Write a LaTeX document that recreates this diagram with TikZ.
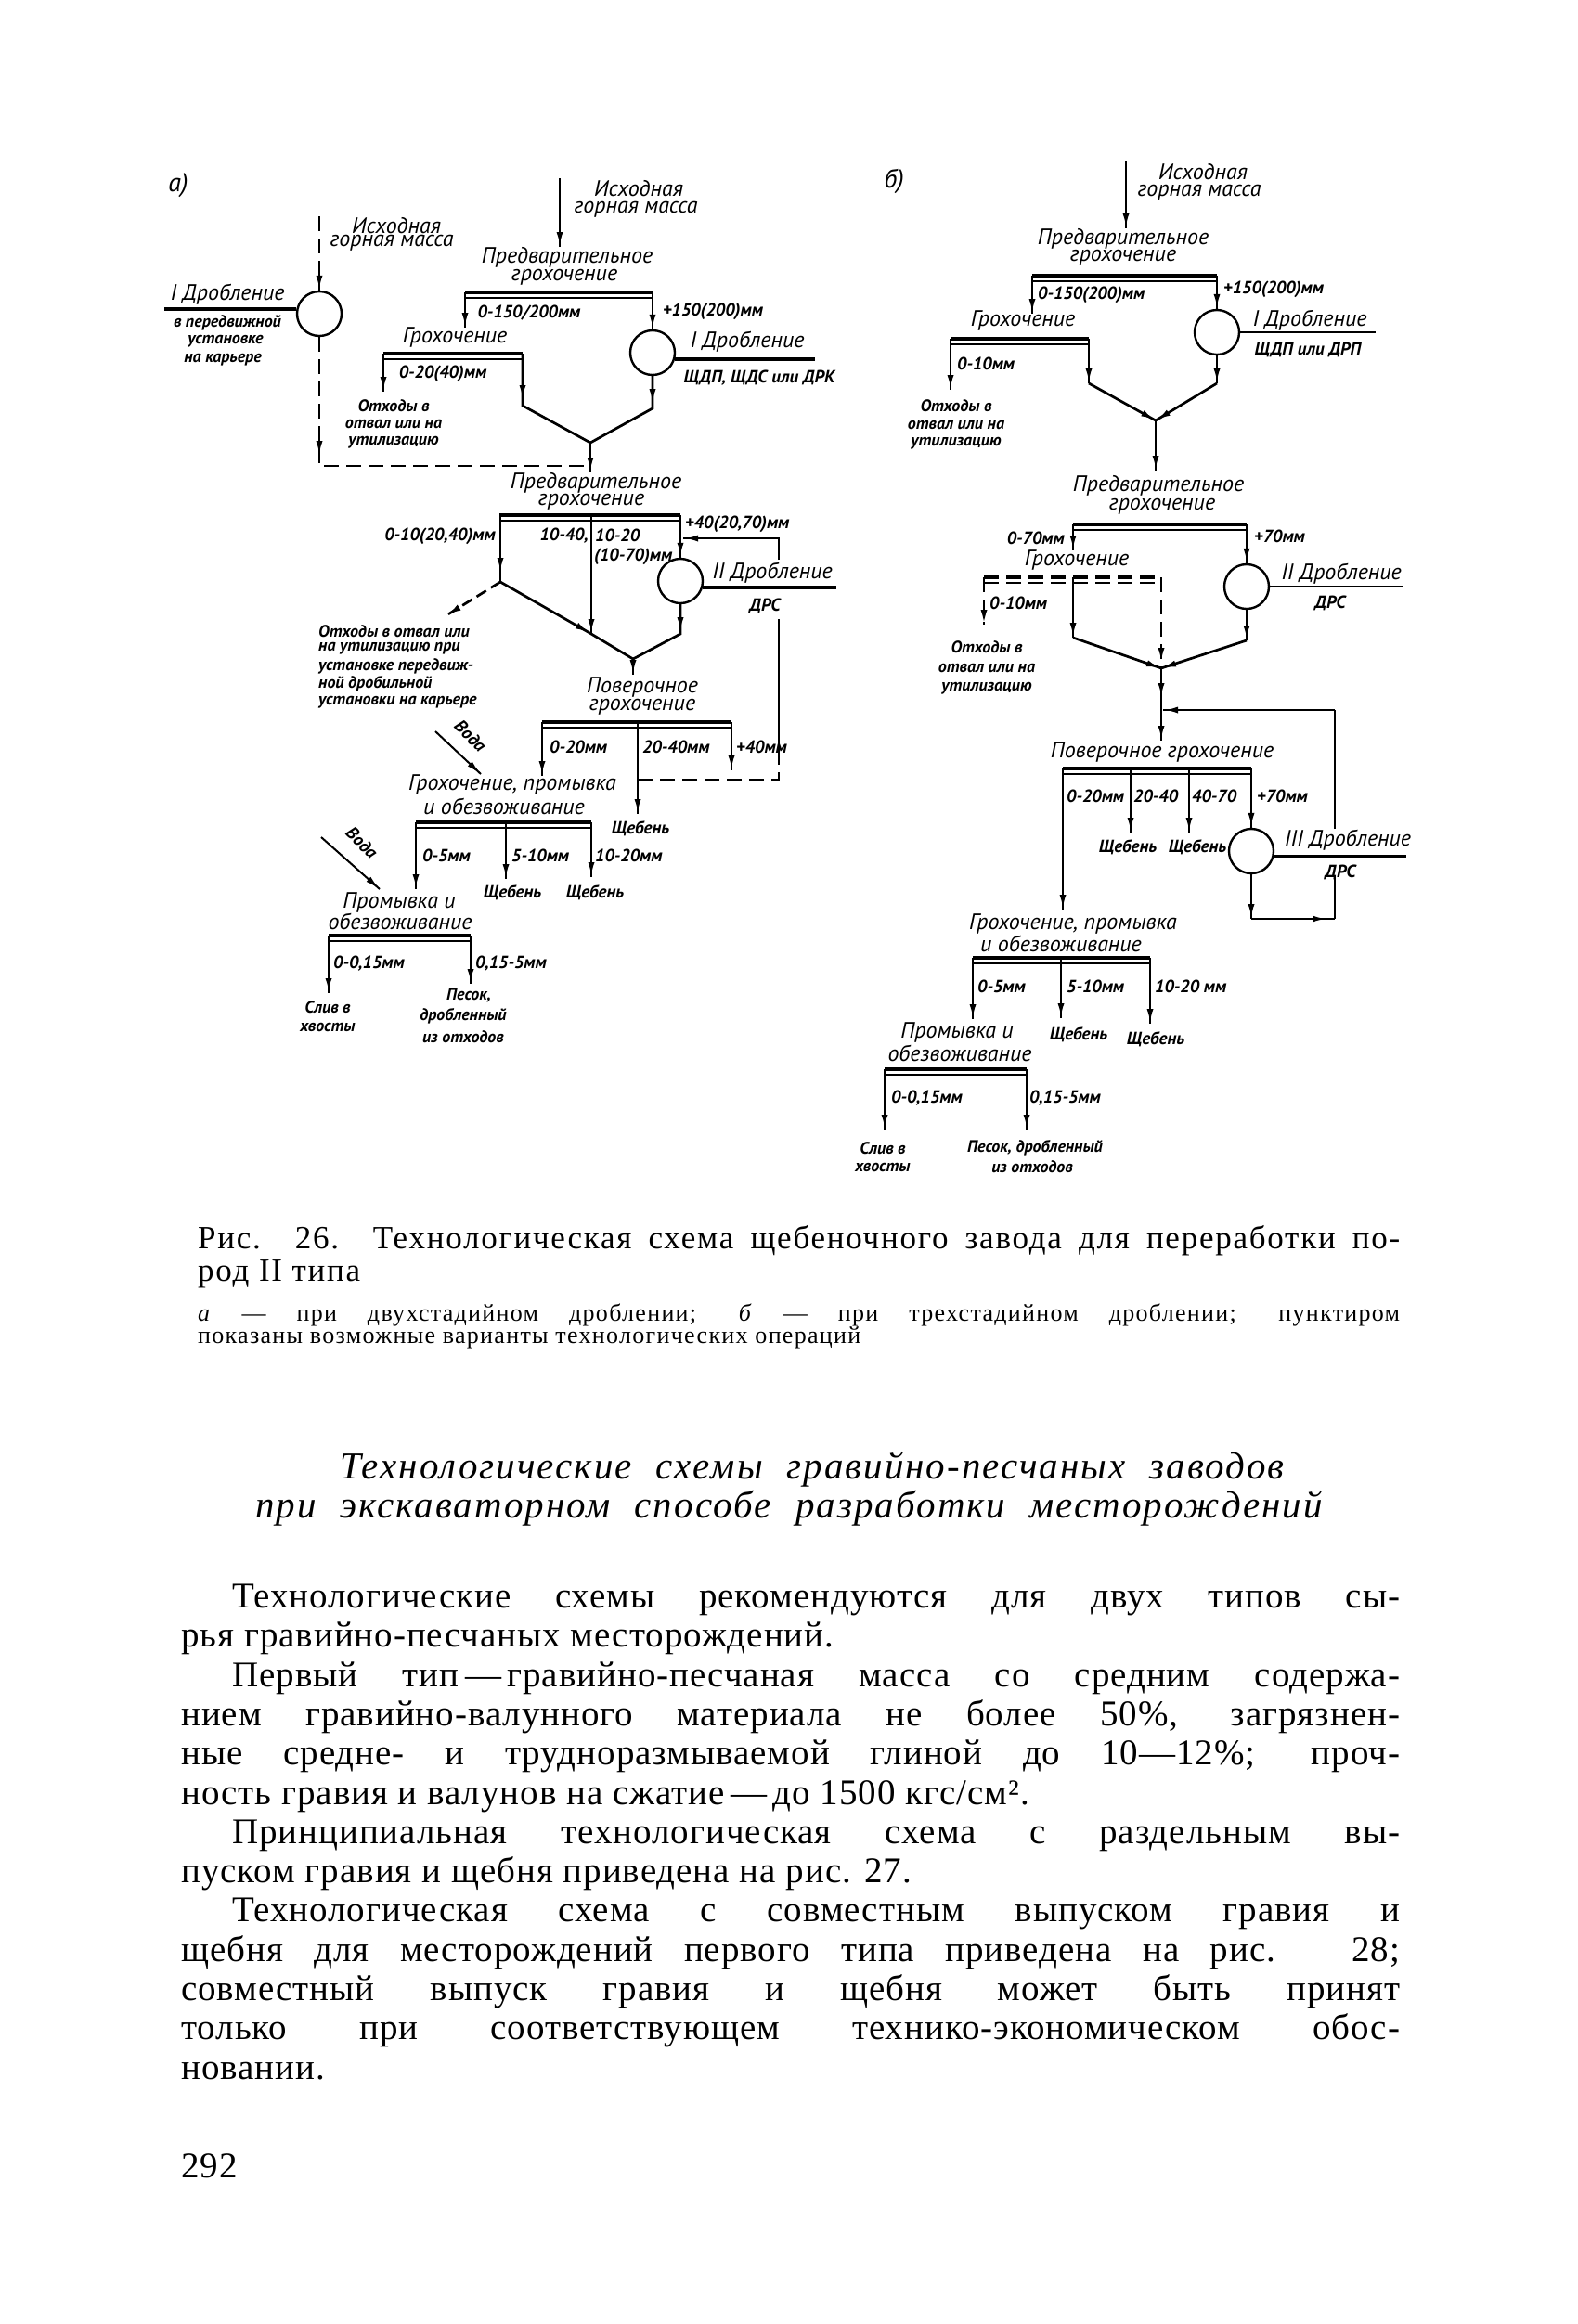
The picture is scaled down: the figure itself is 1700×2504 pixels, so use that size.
\documentclass[tikz,border=0pt]{standalone}
\usepackage{fontspec}
\setmainfont{Liberation Serif}
\newfontfamily\dfont{PT Sans}
\newfontfamily\hfont{Liberation Serif}[LetterSpace=5]
\newfontfamily\bfnt{Liberation Serif}[LetterSpace=2.5]
\newfontfamily\cfnt{Liberation Serif}[LetterSpace=5]
\usetikzlibrary{arrows.meta,decorations.markings,calc}
\newcommand\drawbar[3]{%
  \draw[barthick] (#1,#3) -- (#2,#3);
  \draw[barthin] (#1,#3+6) -- (#2,#3+6);}
\newcommand\drawdbar[3]{%
  \draw[barthick,dash pattern=on 16pt off 8pt] (#1,#3) -- (#2,#3);
  \draw[barthin,dash pattern=on 16pt off 8pt] (#1,#3+6) -- (#2,#3+6);}
\begin{document}
\begin{tikzpicture}[x=1pt,y=-1pt,
  lb/.style={font=\dfont\itshape\fontsize{24}{26}\selectfont, inner sep=0pt},
  sb/.style={font=\dfont\itshape\bfseries\fontsize{19}{21}\selectfont, inner sep=0pt},
  xb/.style={font=\dfont\itshape\bfseries\fontsize{18}{20}\selectfont, inner sep=0pt},
  hd/.style={font=\dfont\itshape\fontsize{28}{30}\selectfont, inner sep=0pt},
  fl/.style={line width=2.7pt},
  dsh/.style={line width=2.7pt, dash pattern=on 16pt off 8pt},
  barthick/.style={line width=4.5pt},
  barthin/.style={line width=1.6pt},
  ar/.style={postaction={decorate,decoration={markings,mark=at position #1 with {\arrow{Latex[length=16pt,width=7pt]}}}}},
  ar/.default=1,
  crc/.style={circle,draw,line width=2.4pt,minimum size=48pt,inner sep=0pt},
  bodytxt/.style={font=\bfnt\fontsize{39}{42}\selectfont, inner sep=0pt, anchor=base west},
  captxt/.style={font=\cfnt\fontsize{35}{37}\selectfont, inner sep=0pt, anchor=mid west},
  capsm/.style={font=\cfnt\fontsize{26}{28}\selectfont, inner sep=0pt, anchor=mid west},
  headtxt/.style={font=\hfont\itshape\fontsize{41}{43}\selectfont, inner sep=0pt}
]
\useasboundingbox (0,0) rectangle (1700,2504);
\fill[white] (0,0) rectangle (1700,2504);

% ================= a) =================
\node[hd] (hA) at (192,200) {а)};

% left optional crushing (dashed)
\node[crc] (cA0) at (344,338) {};
\coordinate (fA0) at (344,233);
\coordinate (dA1) at (344,502);
\coordinate (jA2) at (636,502);
\draw[dsh,ar] (fA0) -- (cA0.north);
\draw[dsh,ar=128pt] (cA0.south) -- (dA1) -- (jA2);
\node[lb] (tA1) at (427,243) {Исходная};
\node[lb] (tA2) at (422,262) {горная масса};
\node[lb] (tA3) at (245,317) {I Дробление};
\coordinate (uA0) at (177,333);
\draw[line width=4pt] (uA0) -- (cA0.west |- uA0);
\node[xb] (tA4) at (245,348) {в передвижной};
\node[xb] (tA5) at (243,368) {установке};
\node[xb] (tA6) at (240,388) {на карьере};

% main feed
\coordinate (fA1) at (603,192);
\coordinate (fA2) at (603,266);
\draw[fl,ar] (fA1) -- (fA2);
\node[lb] (tA7) at (688,203) {Исходная};
\node[lb] (tA8) at (685,226) {горная масса};
\node[lb] (tA9) at (611,277) {Предварительное};
\node[lb] (tA10) at (608,299) {грохочение};
\drawbar{501}{703}{315}
\node[crc] (cA1) at (703,380) {};
\coordinate (bA1L) at (501,315);
\coordinate (bA1R) at (703,315);
\coordinate (lA1) at (501,353);
\draw[fl,ar] (bA1L) -- (lA1);
\draw[fl,ar] (bA1R) -- (cA1.north);
\node[sb] (tA11) at (570,337) {0-150/200мм};
\node[sb] (tA12) at (768,336) {+150(200)мм};
\draw[line width=4pt] (cA1.-15) -- ++(151,0);
\node[lb] (tA13) at (805,368) {I Дробление};
\node[sb] (tA14) at (818,407) {ЩДП, ЩДС или ДРК};

\node[lb] (tA15) at (490,363) {Грохочение};
\drawbar{413}{563}{381}
\coordinate (bA2L) at (413,381);
\coordinate (bA2R) at (563,381);
\coordinate (lA2) at (413,422);
\draw[fl,ar] (bA2L) -- (lA2);
\node[sb] (tA16) at (477,403) {0-20(40)мм};
\node[xb] (tA17) at (424,437) {Отходы в};
\node[xb] (tA18) at (424,457) {отвал или на};
\node[xb] (tA19) at (424,477) {утилизацию};
\coordinate (kA1) at (563,437);
\coordinate (vA1) at (636,477);
\coordinate (kA2) at (703,440);
\draw[fl,ar=50pt] (bA2R) -- (kA1) -- (vA1);
\draw[fl,ar=30pt] (cA1.south) -- (kA2) -- (vA1);
\coordinate (pA2) at (636,509);
\draw[fl,ar] (vA1) -- (pA2);

% second preliminary screening
\node[lb] (tA20) at (642,520) {Предварительное};
\node[lb] (tA21) at (637,541) {грохочение};
\drawbar{538}{733}{555}
\coordinate (bA3L) at (539,555);
\coordinate (bA3M) at (637,555);
\coordinate (bA3R) at (733,555);
\coordinate (jA3) at (539,627);
\coordinate (jA4) at (637,683);
\coordinate (vA2) at (682,710);
\node[crc] (cA2) at (733,626) {};
\draw[fl,ar=62pt] (bA3L) -- (jA3);
\node[sb,anchor=east] (tA22) at (534,578) {0-10(20,40)мм};
\coordinate (wA1) at (481,663);
\draw[line width=2.7pt,dash pattern=on 12pt off 6pt,ar] (jA3) -- (wA1);
\node[xb,anchor=west] (tA23) at (343,680) {Отходы в отвал или};
\node[xb,anchor=west] (tA24) at (343,699) {на утилизацию при};
\node[xb,anchor=west] (tA25) at (343,718) {установке передвиж-};
\node[xb,anchor=west] (tA26) at (343,737) {ной дробильной};
\node[xb,anchor=west] (tA27) at (343,757) {установки на карьере};
\draw[fl,ar=111pt] (jA3) -- (jA4) -- (vA2);
\draw[fl,ar] (bA3M) -- (jA4);
\node[sb,anchor=east] (tA28) at (634,577) {10-40,};
\node[sb,anchor=west] (tA29) at (641,577) {10-20};
\node[sb,anchor=west] (tA30) at (640,600) {(10-70)мм};
\draw[fl,ar] (bA3R) -- (cA2.north);
\node[sb,anchor=west] (tA31) at (738,565) {+40(20,70)мм};
\coordinate (rA1) at (839,603);
\coordinate (rA2) at (839,580);
\coordinate (rA3) at (736,580);
\draw[fl,ar] (rA1) -- (rA2) -- (rA3);
\coordinate (rA4) at (839,667);
\coordinate (rA5) at (839,808);
\coordinate (rA6) at (839,840);
\coordinate (rA7) at (687,840);
\draw[fl] (rA4) -- (rA5);
\draw[dsh] (rA5) -- (rA6) -- (rA7);
\draw[line width=4pt] (cA2.-15) -- ++(144,0);
\node[lb] (tA32) at (832,617) {II Дробление};
\node[sb] (tA33) at (824,653) {ДРС};
\coordinate (kA3) at (733,683);
\draw[fl,ar=30pt] (cA2.south) -- (kA3) -- (vA2);
\coordinate (pA3) at (682,727);
\draw[fl,ar] (vA2) -- (pA3);

% check screening
\node[lb] (tA34) at (692,740) {Поверочное};
\node[lb] (tA35) at (692,762) {грохочение};
\drawbar{584}{788}{778}
\coordinate (bA4L) at (584,778);
\coordinate (bA4M) at (687,778);
\coordinate (bA4R) at (788,778);
\coordinate (lA4L) at (584,836);
\coordinate (lA4M) at (687,877);
\coordinate (lA4R) at (788,830);
\draw[fl,ar] (bA4L) -- (lA4L);
\draw[fl,ar] (bA4M) -- (lA4M);
\draw[fl,ar] (bA4R) -- (lA4R);
\node[sb,anchor=west] (tA36) at (592,805) {0-20мм};
\node[sb,anchor=west] (tA37) at (692,805) {20-40мм};
\node[sb,anchor=west] (tA38) at (793,805) {+40мм};
\node[sb] (tA39) at (690,893) {Щебень};

% water 1
\coordinate (wa1) at (469,788);
\coordinate (wa2) at (518,834);
\draw[line width=2pt,ar] (wa1) -- (wa2);
\node[sb,rotate=-45] (tA40) at (507,793) {Вода};

% screening, washing
\node[lb] (tA41) at (552,845) {Грохочение, промывка};
\node[lb] (tA42) at (543,869) {и обезвоживание};
\drawbar{448}{637}{886}
\coordinate (bA5L) at (448,886);
\coordinate (bA5M) at (545,886);
\coordinate (bA5R) at (637,886);
\coordinate (lA5L) at (448,958);
\coordinate (lA5M) at (545,947);
\coordinate (lA5R) at (637,945);
\draw[fl,ar] (bA5L) -- (lA5L);
\draw[fl,ar] (bA5M) -- (lA5M);
\draw[fl,ar] (bA5R) -- (lA5R);
\node[sb,anchor=west] (tA43) at (455,922) {0-5мм};
\node[sb,anchor=west] (tA44) at (551,922) {5-10мм};
\node[sb,anchor=west] (tA45) at (641,922) {10-20мм};
\node[sb] (tA46) at (552,962) {Щебень};
\node[sb] (tA47) at (641,962) {Щебень};

% water 2
\coordinate (wb1) at (346,902);
\coordinate (wb2) at (409,958);
\draw[line width=2pt,ar] (wb1) -- (wb2);
\node[sb,rotate=-45] (tA48) at (390,908) {Вода};

\node[lb] (tA49) at (430,972) {Промывка и};
\node[lb] (tA50) at (431,993) {обезвоживание};
\drawbar{354}{507}{1008}
\coordinate (bA6L) at (354,1008);
\coordinate (bA6R) at (507,1008);
\coordinate (lA6L) at (354,1070);
\coordinate (lA6R) at (507,1060);
\draw[fl,ar] (bA6L) -- (lA6L);
\draw[fl,ar] (bA6R) -- (lA6R);
\node[sb,anchor=west] (tA51) at (359,1038) {0-0,15мм};
\node[sb,anchor=west] (tA52) at (512,1038) {0,15-5мм};
\node[xb] (tA53) at (353,1085) {Слив в};
\node[xb] (tA54) at (353,1107) {хвосты};
\node[xb] (tA55) at (505,1073) {Песок,};
\node[xb] (tA56) at (499,1095) {дробленный};
\node[xb] (tA57) at (499,1117) {из отходов};

% ================= b) =================
\node[hd] (hB) at (963,195) {б)};
\coordinate (fB1) at (1213,173);
\coordinate (fB2) at (1213,246);
\draw[fl,ar] (fB1) -- (fB2);
\node[lb] (tB1) at (1296,185) {Исходная};
\node[lb] (tB2) at (1292,208) {горная масса};
\node[lb] (tB3) at (1210,257) {Предварительное};
\node[lb] (tB4) at (1210,278) {грохочение};
\drawbar{1112}{1311}{297}
\node[crc] (cB1) at (1311,358) {};
\coordinate (bB1L) at (1112,297);
\coordinate (bB1R) at (1311,297);
\coordinate (lB1) at (1112,338);
\draw[fl,ar] (bB1L) -- (lB1);
\draw[fl,ar] (bB1R) -- (cB1.north);
\node[sb,anchor=west] (tB5) at (1118,318) {0-150(200)мм};
\node[sb,anchor=west] (tB6) at (1318,312) {+150(200)мм};
\draw[fl] (cB1.east) -- ++(146,0);
\node[lb] (tB7) at (1411,345) {I Дробление};
\node[sb] (tB8) at (1409,377) {ЩДП или ДРП};
\node[lb] (tB9) at (1102,345) {Грохочение};
\drawbar{1024}{1173}{365}
\coordinate (bB2L) at (1024,365);
\coordinate (bB2R) at (1173,365);
\coordinate (lB2) at (1024,420);
\draw[fl,ar] (bB2L) -- (lB2);
\node[sb,anchor=west] (tB10) at (1031,392) {0-10мм};
\node[xb] (tB11) at (1030,437) {Отходы в};
\node[xb] (tB12) at (1030,458) {отвал или на};
\node[xb] (tB13) at (1030,478) {утилизацию};
\coordinate (kB1) at (1173,413);
\coordinate (vB1) at (1245,453);
\coordinate (kB2) at (1311,413);
\draw[fl,ar] (bB2R) -- (kB1);
\draw[fl,ar] (kB1) -- (vB1);
\draw[fl,ar] (cB1.south) -- (kB2);
\draw[fl,ar] (kB2) -- (vB1);
\coordinate (pB1) at (1245,507);
\draw[fl,ar] (vB1) -- (pB1);

\node[lb] (tB14) at (1248,523) {Предварительное};
\node[lb] (tB15) at (1252,546) {грохочение};
\drawbar{1156}{1343}{565}
\node[crc] (cB2) at (1343,632) {};
\coordinate (bB3L) at (1156,565);
\coordinate (bB3R) at (1343,565);
\coordinate (lB3) at (1156,593);
\draw[fl,ar] (bB3L) -- (lB3);
\node[sb,anchor=east] (tB16) at (1147,580) {0-70мм};
\node[lb] (tB17) at (1160,603) {Грохочение};
\drawdbar{1060}{1251}{622}
\coordinate (bB4L) at (1060,622);
\coordinate (bB4M) at (1156,622);
\coordinate (bB4R) at (1251,622);
\coordinate (lB4) at (1060,673);
\draw[dsh,ar] (bB4L) -- (lB4);
\node[sb,anchor=west] (tB18) at (1066,650) {0-10мм};
\node[xb] (tB19) at (1063,697) {Отходы в};
\node[xb] (tB20) at (1063,720) {отвал или на};
\node[xb] (tB21) at (1063,742) {утилизацию};
\coordinate (kB3) at (1156,687);
\coordinate (vB2) at (1251,720);
\draw[fl,ar] (bB4M) -- (kB3);
\draw[fl,ar] (kB3) -- (vB2);
\draw[dsh,ar=-6pt] (bB4R) -- (vB2);
\draw[fl,ar] (bB3R) -- (cB2.north);
\node[sb,anchor=west] (tB22) at (1351,578) {+70мм};
\draw[fl] (cB2.east) -- ++(144,0);
\node[lb] (tB23) at (1445,618) {II Дробление};
\node[sb] (tB24) at (1433,650) {ДРС};
\coordinate (kB4) at (1343,690);
\draw[fl,ar] (cB2.south) -- (kB4);
\draw[fl,ar] (kB4) -- (vB2);
\coordinate (mB1) at (1251,752);
\coordinate (pB2) at (1251,798);
\draw[fl,ar] (vB2) -- (mB1);
\draw[fl,ar] (mB1) -- (pB2);
\coordinate (rB1) at (1438,765);
\coordinate (rB2) at (1253,765);
\draw[fl,ar] (rB1) -- (rB2);

\node[lb] (tB25) at (1252,810) {Поверочное грохочение};
\drawbar{1145}{1348}{828}
\node[crc] (cB3) at (1348,917) {};
\coordinate (bB5A) at (1145,828);
\coordinate (bB5B) at (1218,828);
\coordinate (bB5C) at (1281,828);
\coordinate (bB5D) at (1348,828);
\coordinate (lB5A) at (1145,980);
\coordinate (lB5B) at (1218,897);
\coordinate (lB5C) at (1281,897);
\draw[fl,ar] (bB5A) -- (lB5A);
\draw[fl,ar] (bB5B) -- (lB5B);
\draw[fl,ar] (bB5C) -- (lB5C);
\draw[fl,ar] (bB5D) -- (cB3.north);
\node[sb,anchor=west] (tB26) at (1149,858) {0-20мм};
\node[sb,anchor=west] (tB27) at (1221,858) {20-40};
\node[sb,anchor=west] (tB28) at (1284,858) {40-70};
\node[sb,anchor=west] (tB29) at (1354,858) {+70мм};
\node[sb] (tB30) at (1215,913) {Щебень};
\node[sb] (tB31) at (1290,913) {Щебень};
\draw[fl] (cB3.-12) -- ++(142,0);
\node[lb] (tB32) at (1452,905) {III Дробление};
\node[sb] (tB33) at (1444,940) {ДРС};
\coordinate (kB5) at (1348,990);
\coordinate (kB6) at (1438,990);
\coordinate (kB7) at (1438,943);
\coordinate (kB8) at (1438,893);
\draw[fl,ar] (cB3.south) -- (kB5);
\draw[fl,ar=-8pt] (kB5) -- (kB6);
\draw[fl] (kB6) -- (kB7);
\draw[fl] (kB8) -- (rB1);

\node[lb] (tB34) at (1156,995) {Грохочение, промывка};
\node[lb] (tB35) at (1143,1017) {и обезвоживание};
\drawbar{1048}{1239}{1032}
\coordinate (bB6A) at (1048,1032);
\coordinate (bB6B) at (1143,1032);
\coordinate (bB6C) at (1239,1032);
\coordinate (lB6A) at (1048,1098);
\coordinate (lB6B) at (1143,1097);
\coordinate (lB6C) at (1239,1103);
\draw[fl,ar] (bB6A) -- (lB6A);
\draw[fl,ar] (bB6B) -- (lB6B);
\draw[fl,ar] (bB6C) -- (lB6C);
\node[sb,anchor=west] (tB36) at (1053,1063) {0-5мм};
\node[sb,anchor=west] (tB37) at (1149,1063) {5-10мм};
\node[sb,anchor=west] (tB38) at (1244,1063) {10-20 мм};
\node[lb] (tB39) at (1031,1112) {Промывка и};
\node[lb] (tB40) at (1034,1135) {обезвоживание};
\node[sb] (tB41) at (1162,1115) {Щебень};
\node[sb] (tB42) at (1245,1120) {Щебень};
\drawbar{953}{1106}{1152}
\coordinate (bB7L) at (953,1152);
\coordinate (bB7R) at (1106,1152);
\coordinate (lB7L) at (953,1217);
\coordinate (lB7R) at (1106,1217);
\draw[fl,ar] (bB7L) -- (lB7L);
\draw[fl,ar] (bB7R) -- (lB7R);
\node[sb,anchor=west] (tB43) at (960,1183) {0-0,15мм};
\node[sb,anchor=west] (tB44) at (1109,1183) {0,15-5мм};
\node[xb] (tB45) at (951,1237) {Слив в};
\node[xb] (tB46) at (951,1258) {хвосты};
\node[xb] (tB47) at (1115,1237) {Песок, дробленный};
\node[xb] (tB48) at (1112,1257) {из отходов};

% ================= caption =================
\node[captxt] (c1) at (213,1343) {\makebox[1295pt][s]{Рис. 26. Технологическая схема щебеночного завода для переработки по-}};
\node[captxt] (c2) at (213,1378) {род II типа};
\node[capsm] (c3) at (213,1421) {\makebox[1295pt][s]{\textit{а} — при двухстадийном дроблении; \textit{б} — при трехстадийном дроблении; пунктиром}};
\node[capsm] (c4) at (213,1445) {показаны возможные варианты технологических операций};

% ================= heading =================
\node[headtxt] (h1) at (875,1583) {\makebox[1017pt][s]{Технологические схемы гравийно-песчаных заводов}};
\node[headtxt] (h2) at (850,1625) {\makebox[1150pt][s]{при экскаваторном способе разработки месторождений}};

% ================= body =================
\node[bodytxt] (b1) at (250,1732) {\makebox[1258pt][s]{Технологические схемы рекомендуются для двух типов сы-}};
\node[bodytxt] (b2) at (195,1774) {рья гравийно-песчаных месторождений.};
\node[bodytxt] (b3) at (250,1817) {\makebox[1258pt][s]{Первый тип\,—\,гравийно-песчаная масса со средним содержа-}};
\node[bodytxt] (b4) at (195,1859) {\makebox[1313pt][s]{нием гравийно-валунного материала не более 50\%, загрязнен-}};
\node[bodytxt] (b5) at (195,1901) {\makebox[1313pt][s]{ные средне- и трудноразмываемой глиной до 10—12\%; проч-}};
\node[bodytxt] (b6) at (195,1944) {ность гравия и валунов на сжатие\,—\,до 1500 кгс/см².};
\node[bodytxt] (b7) at (250,1986) {\makebox[1258pt][s]{Принципиальная технологическая схема с раздельным вы-}};
\node[bodytxt] (b8) at (195,2028) {пуском гравия и щебня приведена на рис. 27.};
\node[bodytxt] (b9) at (250,2070) {\makebox[1258pt][s]{Технологическая схема с совместным выпуском гравия и}};
\node[bodytxt] (b10) at (195,2113) {\makebox[1313pt][s]{щебня для месторождений первого типа приведена на рис. 28;}};
\node[bodytxt] (b11) at (195,2155) {\makebox[1313pt][s]{совместный выпуск гравия и щебня может быть принят}};
\node[bodytxt] (b12) at (195,2197) {\makebox[1313pt][s]{только при соответствующем технико-экономическом обос-}};
\node[bodytxt] (b13) at (195,2240) {новании.};
\node[bodytxt] (pg) at (195,2346) {292};
\end{tikzpicture}
\end{document}
